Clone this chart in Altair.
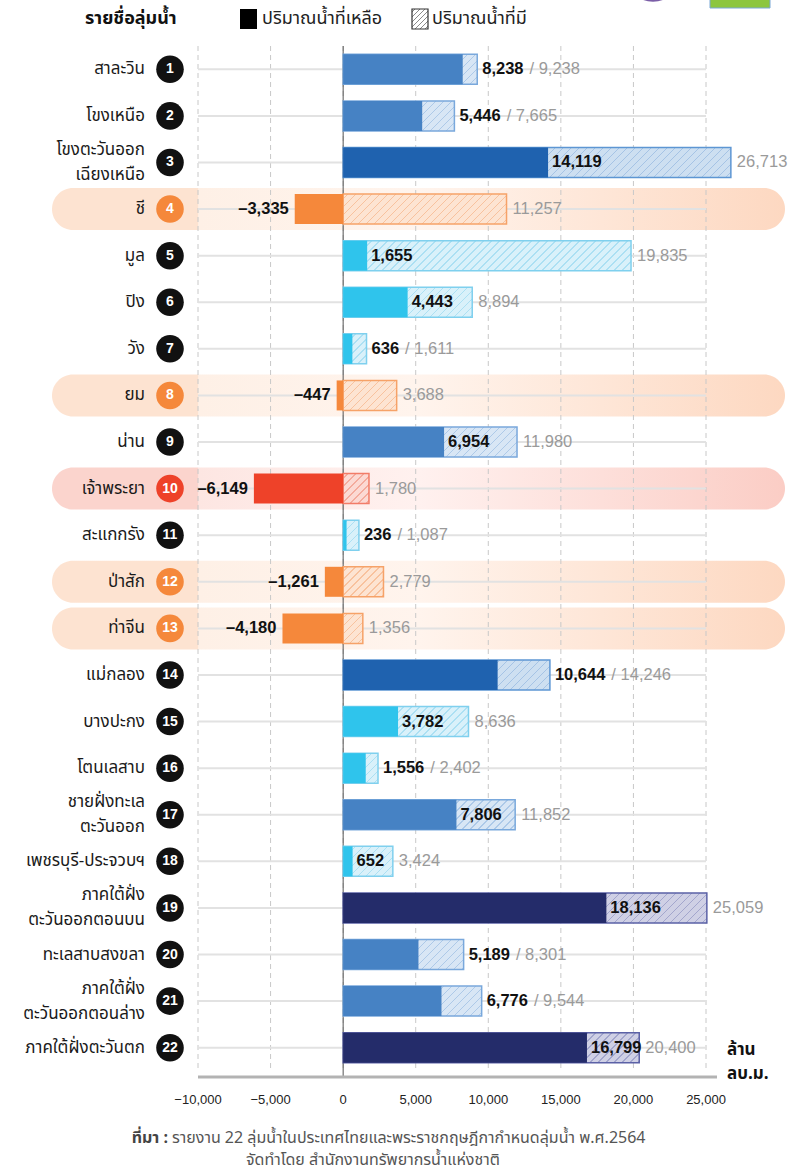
import altair as alt
import pandas as pd

# ---------------- data ----------------
names = ["สาละวิน", "โขงเหนือ", "โขงตะวันออก|เฉียงเหนือ", "ชี", "มูล", "ปิง", "วัง", "ยม",
         "น่าน", "เจ้าพระยา", "สะแกกรัง", "ป่าสัก", "ท่าจีน", "แม่กลอง", "บางปะกง",
         "โตนเลสาบ", "ชายฝั่งทะเล|ตะวันออก", "เพชรบุรี-ประจวบฯ", "ภาคใต้ฝั่ง|ตะวันออกตอนบน",
         "ทะเลสาบสงขลา", "ภาคใต้ฝั่ง|ตะวันออกตอนล่าง", "ภาคใต้ฝั่งตะวันตก"]
remaining = [8238, 5446, 14119, -3335, 1655, 4443, 636, -447, 6954, -6149, 236, -1261,
             -4180, 10644, 3782, 1556, 7806, 652, 18136, 5189, 6776, 16799]
available = [9238, 7665, 26713, 11257, 19835, 8894, 1611, 3688, 11980, 1780, 1087, 2779,
             1356, 14246, 8636, 2402, 11852, 3424, 25059, 8301, 9544, 20400]
label_mode = ["out", "out", "in", "neg", "in", "in", "out", "neg", "in", "neg", "out", "neg",
              "neg", "out", "in", "out", "in", "in", "in", "out", "out", "in"]
tick_values = [-10000, -5000, 0, 5000, 10000, 15000, 20000, 25000]

# ---------------- layout / style ----------------
PLOT_W, PLOT_H = 508, 1025
X_MIN, X_MAX = -10000, 25000
PX_PER_UNIT = PLOT_W / (X_MAX - X_MIN)
BAR_H = 30
THAI = "Noto Sans Thai, Noto Sans, sans-serif"
NUMF = "Liberation Sans, Arial, sans-serif"
BOLD_SIZE = 16.5
DIGIT_W = 0.556 * BOLD_SIZE
COMMA_W = 0.278 * BOLD_SIZE

palette = {
    "red":    dict(solid="#ee4229", bg="#fcd9d3", line="#f4ab9d", stroke="#f27c68"),
    "orange": dict(solid="#f5883b", bg="#fde4d2", line="#f8c29e", stroke="#f6a268"),
    "cyan":   dict(solid="#2fc4ec", bg="#d9f1fa", line="#ace0f3", stroke="#7fd0ee"),
    "mid":    dict(solid="#4682c4", bg="#d8e6f5", line="#adc9e8", stroke="#79a8dc"),
    "dark":   dict(solid="#1f62af", bg="#cddff1", line="#a5c3e5", stroke="#5d96d3"),
    "navy":   dict(solid="#242c6a", bg="#cfd0e5", line="#a3a6cd", stroke="#5b61a6"),
}
tier_order = ["red", "orange", "cyan", "mid", "dark", "navy"]
tier_breaks = [-5000, 0, 5000, 10000, 15000]


def tier(v):
    for b, t in zip(tier_breaks, tier_order):
        if v < b:
            return t
    return tier_order[-1]


def fmt(v):
    return f"{v:,}".replace("-", "–")


def hatch_gradient(W, H, bg, line, period=8.0, lw=1.3):
    total = W + H
    s = total * W / (W * W + H * H)
    stops = [{"offset": 0, "color": bg}]
    pos = period * 0.5
    while pos + lw < total:
        a = round(pos / total, 5)
        b = round((pos + lw) / total, 5)
        stops += [{"offset": a, "color": bg}, {"offset": a, "color": line},
                  {"offset": b, "color": line}, {"offset": b, "color": bg}]
        pos += period
    stops.append({"offset": 1, "color": bg})
    return {"gradient": "linear", "x1": 0, "y1": 0, "x2": round(s, 5),
            "y2": round(s * H / W, 5), "stops": stops}


def band_gradient(edge, light, lightest, end):
    return {"gradient": "linear", "x1": 0, "y1": 0, "x2": 1, "y2": 0,
            "stops": [{"offset": 0, "color": edge}, {"offset": 0.199, "color": edge},
                      {"offset": 0.2, "color": light}, {"offset": 0.5, "color": lightest},
                      {"offset": 1, "color": end}]}


df = pd.DataFrame({
    "idx": list(range(1, len(names) + 1)),
    "name": names,
    "remaining": remaining,
    "available": available,
    "mode": label_mode,
    "rl": [fmt(v) for v in remaining],
    "al": [fmt(v) for v in available],
    "num": [str(i) for i in range(1, len(names) + 1)],
})

base = alt.Chart(df)
xs = alt.Scale(domain=[X_MIN, X_MAX], nice=False, zero=False)
Y = alt.Y("idx:O", axis=None, scale=alt.Scale(paddingInner=0.0987, paddingOuter=0.04935))
one = pd.DataFrame({"a": [0]})

layers = []

# highlight bands for negative rows
layers.append(base.transform_filter("datum.remaining < 0 && datum.remaining >= -5000").mark_rect(
    cornerRadius=21, fill=band_gradient("#fde3d1", "#fef0e6", "#fff4ed", "#fdd8c1")
).encode(y=Y, x=alt.value(-146), x2=alt.value(587)))
layers.append(base.transform_filter("datum.remaining < -5000").mark_rect(
    cornerRadius=21, fill=band_gradient("#fbd4cd", "#fde6e2", "#fff1ef", "#fbcdc5")
).encode(y=Y, x=alt.value(-146), x2=alt.value(587)))

# dashed vertical grid
ticks_chart = alt.Chart(pd.DataFrame({"t": tick_values}))
layers.append(ticks_chart.mark_rule(
    color="#c8c8c8", strokeDash=[5, 4], strokeWidth=1
).encode(x=alt.X("t:Q", scale=xs, axis=None)))

# row guide lines
layers.append(base.mark_rule(color="#e2e2e2", strokeWidth=2).encode(
    y=Y, x=alt.value(0), x2=alt.value(PLOT_W)))

# zero line
layers.append(alt.Chart(one).mark_rule(color="#555555", strokeWidth=1).encode(
    x=alt.X("a:Q", scale=xs, axis=None), y=alt.value(0), y2=alt.value(PLOT_H + 5)))

# x axis: baseline and tick labels
layers.append(alt.Chart(one).mark_rule(color="#b3b3b3", strokeWidth=3).encode(
    x=alt.value(0), x2=alt.value(519), y=alt.value(PLOT_H + 6)))
layers.append(ticks_chart.transform_calculate(lbl="format(datum.t, ',')").mark_text(
    font=NUMF, fontSize=13, color="#222222", baseline="middle", align="center"
).encode(x=alt.X("t:Q", scale=xs, axis=None), y=alt.value(PLOT_H + 29), text="lbl:N"))

# hatched "available" bars, one per basin
for i, (a, r) in enumerate(zip(available, remaining)):
    p = palette[tier(r)]
    grad = hatch_gradient(a * PX_PER_UNIT, BAR_H, p["bg"], p["line"])
    layers.append(base.transform_filter(f"datum.idx == {i + 1}").mark_bar(
        size=BAR_H, fill=grad, stroke=p["stroke"], strokeWidth=1.5
    ).encode(y=Y, x=alt.X("available:Q", scale=xs, axis=None)))

# solid "remaining" bars
layers.append(base.mark_bar(size=BAR_H).encode(
    y=Y,
    x=alt.X("remaining:Q", scale=xs, axis=None),
    color=alt.Color("remaining:Q", legend=None,
                    scale=alt.Scale(type="threshold", domain=tier_breaks,
                                    range=[palette[t]["solid"] for t in tier_order])),
))

lab = base.transform_calculate(
    bw=f"length(datum.rl) * {DIGIT_W} - (length(datum.rl) > 3 ? {DIGIT_W - COMMA_W} : 0)"
).transform_calculate(
    bx="datum.mode == 'out' ? datum.available : datum.remaining",
    gx=f"datum.available + ((datum.mode == 'out') ? (11 + datum.bw) : 6) / {PX_PER_UNIT}",
    gt="datum.mode == 'out' ? '/ ' + datum.al : datum.al",
)

# bold remaining labels
layers.append(lab.transform_filter("datum.mode == 'out'").mark_text(
    align="left", baseline="middle", dx=5, font=NUMF, fontSize=BOLD_SIZE, fontWeight="bold",
    color="#111111").encode(y=Y, x=alt.X("bx:Q", scale=xs, axis=None), text="rl:N"))
layers.append(lab.transform_filter("datum.mode == 'in'").mark_text(
    align="left", baseline="middle", dx=4, font=NUMF, fontSize=BOLD_SIZE, fontWeight="bold",
    color="#111111").encode(y=Y, x=alt.X("bx:Q", scale=xs, axis=None), text="rl:N"))
layers.append(lab.transform_filter("datum.mode == 'neg'").mark_text(
    align="right", baseline="middle", dx=-6, font=NUMF, fontSize=BOLD_SIZE, fontWeight="bold",
    color="#111111").encode(y=Y, x=alt.X("remaining:Q", scale=xs, axis=None), text="rl:N"))
# grey available labels
layers.append(lab.mark_text(
    align="left", baseline="middle", font=NUMF, fontSize=BOLD_SIZE, color="#9a9a9a"
).encode(y=Y, x=alt.X("gx:Q", scale=xs, axis=None), text="gt:N"))

# basin names (one-line and two-line)
layers.append(base.transform_filter("indexof(datum.name, '|') < 0").mark_text(
    align="right", baseline="middle", font=THAI, fontSize=17, color="#1a1a1a"
).encode(y=Y, x=alt.value(-53), text="name:N"))
layers.append(base.transform_filter("indexof(datum.name, '|') >= 0").mark_text(
    align="right", baseline="middle", lineBreak="|", lineHeight=25, dy=-12.5, font=THAI,
    fontSize=17, color="#1a1a1a").encode(y=Y, x=alt.value(-53), text="name:N"))

# numbered circles
for cond, col in [("datum.remaining >= 0", "#111111"),
                  ("datum.remaining < 0 && datum.remaining >= -5000", palette["orange"]["solid"]),
                  ("datum.remaining < -5000", palette["red"]["solid"])]:
    layers.append(base.transform_filter(cond).mark_point(
        shape="circle", filled=True, size=760, opacity=1, color=col
    ).encode(y=Y, x=alt.value(-28)))
layers.append(base.mark_text(
    align="center", baseline="middle", font=NUMF, fontSize=14, fontWeight="bold",
    color="white").encode(y=Y, x=alt.value(-28), text="num:N"))

# unit label
layers.append(alt.Chart(one).mark_text(
    text="ล้าน|ลบ.ม.", lineBreak="|", lineHeight=24, align="left", baseline="middle",
    dy=-12, font=THAI, fontSize=17, fontWeight="bold", color="#111111"
).encode(x=alt.value(529), y=alt.value(1016)))

# header & legend
layers.append(alt.Chart(one).mark_text(
    text="รายชื่อลุ่มน้ำ", align="left", baseline="middle", font=THAI, fontSize=18,
    fontWeight="bold", color="#111111").encode(x=alt.value(-113), y=alt.value(-27)))
layers.append(alt.Chart(one).mark_rect(color="#000000").encode(
    x=alt.value(42), x2=alt.value(59), y=alt.value(-37), y2=alt.value(-17)))
layers.append(alt.Chart(one).mark_text(
    text="ปริมาณน้ำที่เหลือ", align="left", baseline="middle", font=THAI, fontSize=18,
    color="#222222").encode(x=alt.value(64), y=alt.value(-27)))
layers.append(alt.Chart(one).mark_rect(
    fill=hatch_gradient(16, 20, "#ffffff", "#8a8a8a", period=5.0, lw=1.0),
    stroke="#333333", strokeWidth=1.2).encode(
    x=alt.value(214), x2=alt.value(230), y=alt.value(-37), y2=alt.value(-17)))
layers.append(alt.Chart(one).mark_text(
    text="ปริมาณน้ำที่มี", align="left", baseline="middle", font=THAI, fontSize=18,
    color="#222222").encode(x=alt.value(234), y=alt.value(-27)))

# partial logos at top-right
layers.append(alt.Chart(one).mark_point(
    shape="circle", filled=True, size=3000, stroke="#7b5ea7", strokeWidth=2.5,
    color="#f4eff9", opacity=1).encode(x=alt.value(455), y=alt.value(-73)))
layers.append(alt.Chart(one).mark_rect(
    color="#8cc63f", stroke="#7aa8d6", strokeWidth=1).encode(
    x=alt.value(512), x2=alt.value(572), y=alt.value(-60), y2=alt.value(-38)))

# footer
layers.append(alt.Chart(one).mark_text(
    text="ที่มา :", align="right", baseline="middle", font=THAI, fontSize=16,
    fontWeight="bold", color="#444444").encode(x=alt.value(-30), y=alt.value(1092)))
layers.append(alt.Chart(one).mark_text(
    text="รายงาน 22 ลุ่มน้ำในประเทศไทยและพระราชกฤษฎีกากำหนดลุ่มน้ำ พ.ศ.2564",
    align="left", baseline="middle", font=THAI, fontSize=16, color="#555555"
).encode(x=alt.value(-26), y=alt.value(1092)))
layers.append(alt.Chart(one).mark_text(
    text="จัดทำโดย สำนักงานทรัพยากรน้ำแห่งชาติ", align="center", baseline="middle",
    font=THAI, fontSize=16, color="#555555").encode(x=alt.value(175), y=alt.value(1114)))

chart = alt.layer(*layers).properties(
    width=PLOT_W, height=PLOT_H,
    autosize=alt.AutoSizeParams(type="none"),
    padding={"left": 198, "top": 46, "right": 91, "bottom": 100},
    background="white",
).configure_view(stroke=None)

chart.save("out.html", embed_options={"renderer": "svg", "actions": False})
